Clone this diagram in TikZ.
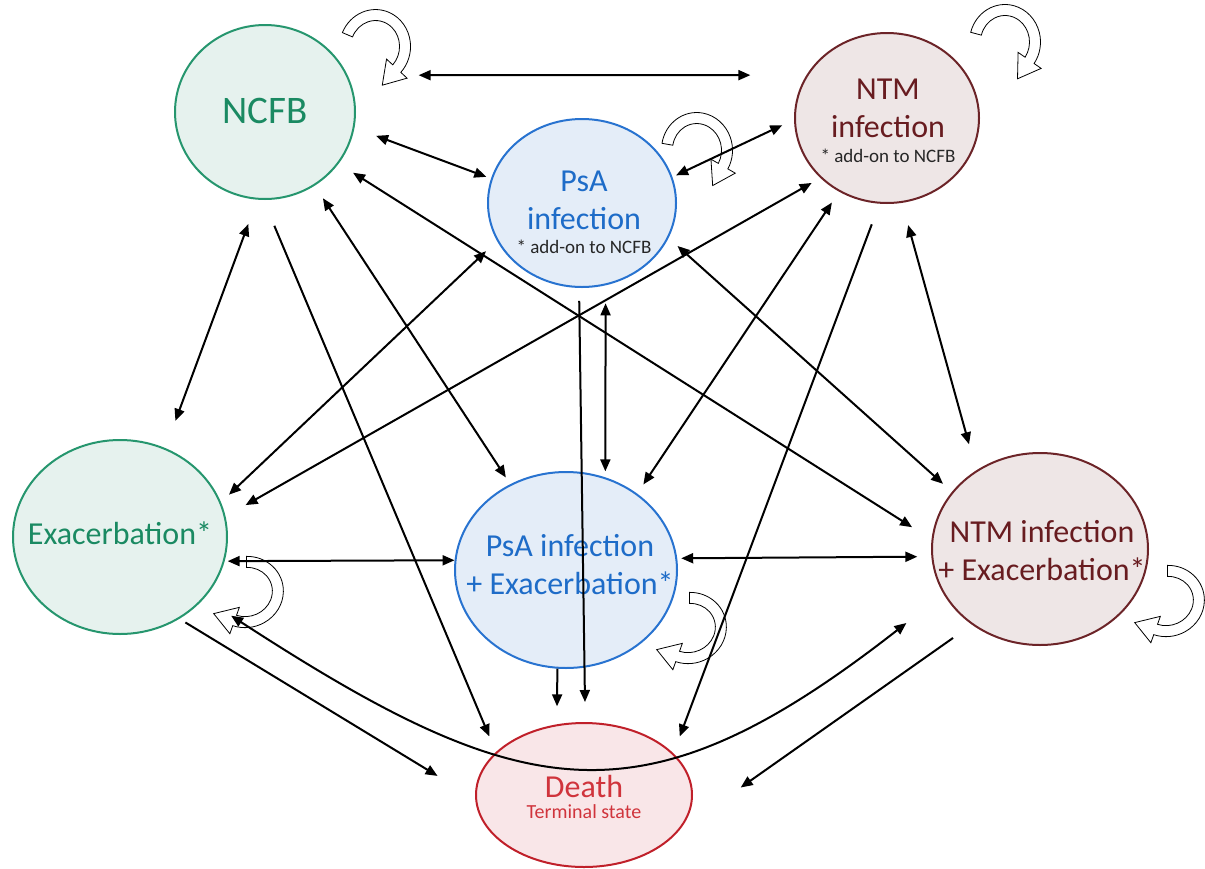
\documentclass[tikz,border=0pt]{standalone}
\usepackage{fontspec}
\setmainfont{Carlito}
\usetikzlibrary{arrows.meta,shapes.geometric}

\definecolor{grline}{RGB}{38,150,110}
\definecolor{grfill}{RGB}{230,242,238}
\definecolor{grtext}{RGB}{26,138,98}
\definecolor{blline}{RGB}{40,115,208}
\definecolor{blfill}{RGB}{228,237,248}
\definecolor{bltext}{RGB}{30,108,200}
\definecolor{brline}{RGB}{108,36,40}
\definecolor{brfill}{RGB}{238,230,230}
\definecolor{brtext}{RGB}{104,28,32}
\definecolor{rdline}{RGB}{192,32,42}
\definecolor{rdfill}{RGB}{249,230,232}
\definecolor{rdtext}{RGB}{208,52,60}

\tikzset{
	state/.style={ellipse, draw, line width=2pt, inner sep=0pt},
	txt/.style={align=center, inner sep=0pt, font=\fontsize{32}{38}\selectfont},
	twoway/.style={line width=2pt, {Triangle[length=12pt,width=10pt]}-{Triangle[length=12pt,width=10pt]}},
	oneway/.style={line width=2pt, -{Triangle[length=12pt,width=10pt]}},
	selfloop/.pic={
		\draw[line width=0.8pt, fill=white] (165:35.5 and 37.5) arc[start angle=165, end angle=-35, x radius=35.5, y radius=37.5] -- (36.1,-26.4) -- (12.5,-36.8) -- (13.1,-10.4) -- (-35:24.5 and 26.5) arc[start angle=-35, end angle=165, x radius=24.5, y radius=26.5] -- cycle;
	}
}

\begin{document}
\begin{tikzpicture}[x=1pt,y=1pt]
		\useasboundingbox (0,0) rectangle (1205,-868);
		\node[state, draw=grline, fill=grfill, minimum width=180pt, minimum height=174pt] (ncfb) at (265,-112) {};
		\node[state, draw=blline, fill=blfill, minimum width=188pt, minimum height=168pt] (psa) at (582,-203) {};
		\node[state, draw=brline, fill=brfill, minimum width=184pt, minimum height=170pt] (ntm) at (887,-118) {};
		\node[state, draw=grline, fill=grfill, minimum width=214pt, minimum height=194pt] (exac) at (120,-537) {};
		\node[state, draw=blline, fill=blfill, minimum width=222pt, minimum height=196pt] (psaex) at (566,-570) {};
		\node[state, draw=brline, fill=brfill, minimum width=216pt, minimum height=192pt] (ntmex) at (1040,-549) {};
		\node[state, draw=rdline, fill=rdfill, minimum width=216pt, minimum height=144pt] (death) at (584,-795) {};
		\node[txt, text=grtext, font=\fontsize{39}{45}\selectfont] (ncfb-t) at (265,-110.5) {NCFB};
		\node[txt, text=bltext] (psa-t) at (584,-212) {PsA\\infection\\[-14pt]{\fontsize{19}{23}\selectfont\color{black!85} * add-on to NCFB}};
		\node[txt, text=brtext] (ntm-t) at (888,-121) {NTM\\infection\\[-13pt]{\fontsize{19}{23}\selectfont\color{black!85} * add-on to NCFB}};
		\node[txt, text=grtext] (exac-t) at (120,-533) {Exacerbation*};
		\node[txt, text=bltext] (psaex-t) at (570,-565) {PsA infection\\+ Exacerbation*};
		\node[txt, text=brtext] (ntmex-t) at (1042,-551) {NTM infection\\+ Exacerbation*};
		\node[txt, text=rdtext] (death-t) at (584,-797) {Death\\[-17pt]{\fontsize{20}{24}\selectfont Terminal state}};
		\pic[rotate=-8] at (375,-47) {selfloop};
		\pic[rotate=5] at (697,-150) {selfloop};
		\pic at (1005,-42) {selfloop};
		\pic[rotate=-75] at (246,-592) {selfloop};
		\pic[rotate=-75] at (689,-628) {selfloop};
		\pic[rotate=-75] at (1167,-601) {selfloop};
		\draw[twoway, shorten <=71pt, shorten >=56pt] (ncfb.24) -- (ntm.152);
		\draw[twoway, shorten <=23pt, shorten >=5pt] (ncfb.-10) -- (psa.165);
		\draw[twoway, shorten <=4pt, shorten >=13pt] (psa.16) -- (ntm.181);
		\draw[twoway, shorten <=26pt, shorten >=29pt] (ncfb.-95) -- (exac.63);
		\draw[oneway, shorten <=28pt, shorten >=17pt] (ncfb.-91) -- (death.154);
		\draw[twoway, shorten <=15pt, shorten >=8pt] (ncfb.-56) -- (psaex.123);
		\draw[twoway, shorten <=17pt, shorten >=23pt] (ncfb.-35) -- (ntmex.175);
		\draw[twoway, shorten <=15pt, shorten >=11pt] (psa.204) -- (exac.19);
		\draw[twoway, shorten <=10pt, shorten >=23pt] (ntm.-138) -- (exac.11);
		\draw[oneway, shorten <=13pt, shorten >=20pt] (psa.-92) -- (death.89);
		\draw[oneway, shorten >=18pt] (psaex.-95) -- (death.111);
		\draw[twoway, shorten <=18pt, shorten >=6pt] (psa.-74) -- (psaex.67);
		\draw[twoway, shorten <=12pt, shorten >=12pt] (psa.-22) -- (ntmex.147);
		\draw[twoway, shorten <=13pt, shorten >=11pt] (ntm.-123) -- (psaex.47);
		\draw[oneway, shorten <=22pt, shorten >=18pt] (ntm.-95) -- (death.25);
		\draw[twoway, shorten <=23pt, shorten >=27pt] (ntm.-80) -- (ntmex.129);
		\draw[twoway, shorten <=3pt] (exac.-13) -- (psaex.175);
		\draw[twoway, shorten <=4pt, shorten >=14pt] (psaex.6) -- (ntmex.184);
		\draw[oneway, shorten <=7pt, shorten >=44pt] (exac.-54) -- (death.182);
		\draw[oneway, shorten <=23pt, shorten >=76pt] (ntmex.-132) -- (death.-21);
		\draw[twoway, shorten <=32pt, shorten >=47pt] (exac.-36) to[out=-33, in=-142, looseness=1.32] (ntmex.205);
\end{tikzpicture}
\end{document}
